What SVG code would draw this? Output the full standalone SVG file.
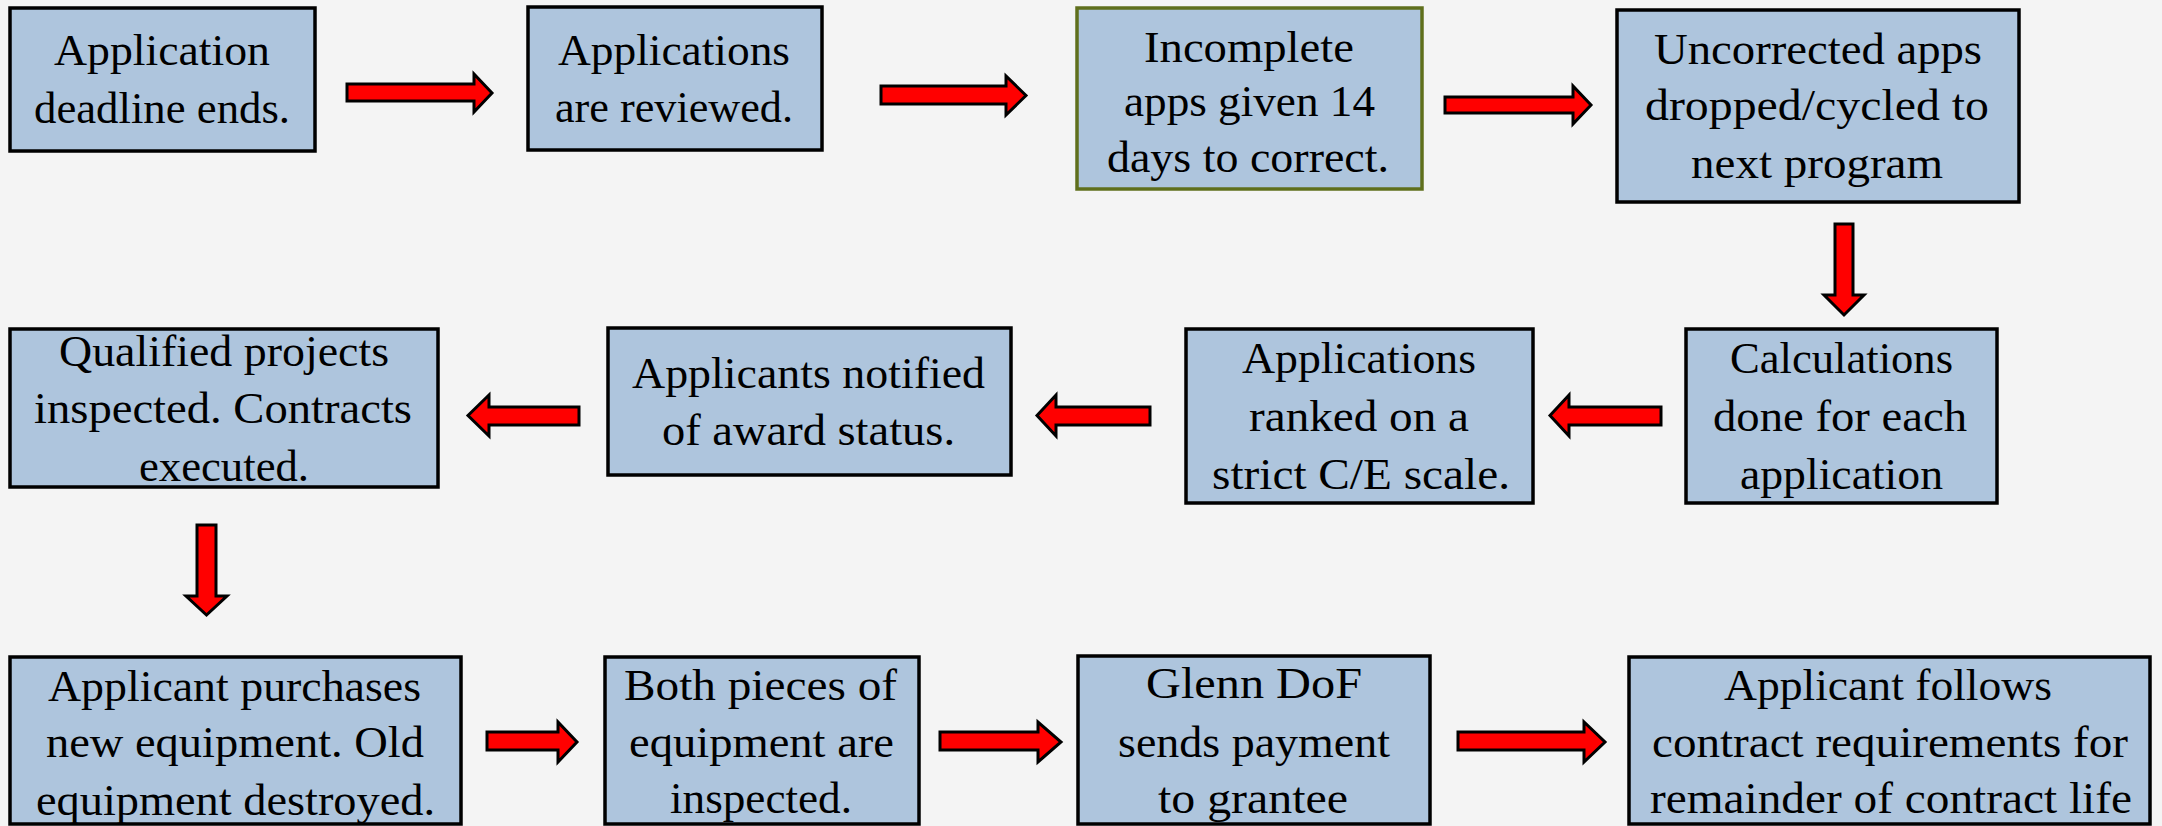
<svg xmlns="http://www.w3.org/2000/svg" width="2162" height="826" viewBox="0 0 2162 826">
<style>
.box{fill:#aec5dd;stroke:#000;stroke-width:3.5}
.olive{fill:#aec5dd;stroke:#5f6f1c;stroke-width:3.5}
.t{font-size:45px;fill:#000;text-anchor:middle}
.arr{fill:#ff0000;stroke:#000;stroke-width:3;stroke-linejoin:miter}
</style>
<rect width="2162" height="826" fill="#f4f4f4"/>
<g font-family="Liberation Serif, Times New Roman, DejaVu Serif, serif" lengthAdjust="spacingAndGlyphs">
<g id="n1"><rect class="box" x="10" y="8" width="305" height="143"/><text class="t" x="162" y="65" textLength="216" lengthAdjust="spacingAndGlyphs">Application</text><text class="t" x="162" y="123" textLength="256" lengthAdjust="spacingAndGlyphs">deadline ends.</text></g>
<g id="n2"><rect class="box" x="528" y="7" width="294" height="143"/><text class="t" x="674" y="65" textLength="232" lengthAdjust="spacingAndGlyphs">Applications</text><text class="t" x="674" y="122" textLength="238" lengthAdjust="spacingAndGlyphs">are reviewed.</text></g>
<g id="n3"><rect class="olive" x="1077" y="8" width="345" height="181"/><text class="t" x="1249" y="62" textLength="210" lengthAdjust="spacingAndGlyphs">Incomplete</text><text class="t" x="1249.5" y="116" textLength="251" lengthAdjust="spacingAndGlyphs">apps given 14</text><text class="t" x="1248" y="172" textLength="282" lengthAdjust="spacingAndGlyphs">days to correct.</text></g>
<g id="n4"><rect class="box" x="1617" y="10" width="402" height="192"/><text class="t" x="1818" y="64" textLength="328" lengthAdjust="spacingAndGlyphs">Uncorrected apps</text><text class="t" x="1817" y="120" textLength="344" lengthAdjust="spacingAndGlyphs">dropped/cycled to</text><text class="t" x="1817" y="178" textLength="252" lengthAdjust="spacingAndGlyphs">next program</text></g>
<g id="n5"><rect class="box" x="1686" y="329" width="311" height="174"/><text class="t" x="1841.5" y="373" textLength="223" lengthAdjust="spacingAndGlyphs">Calculations</text><text class="t" x="1840" y="431" textLength="254" lengthAdjust="spacingAndGlyphs">done for each</text><text class="t" x="1841.5" y="489" textLength="203" lengthAdjust="spacingAndGlyphs">application</text></g>
<g id="n6"><rect class="box" x="1186" y="329" width="347" height="174"/><text class="t" x="1359" y="373" textLength="234" lengthAdjust="spacingAndGlyphs">Applications</text><text class="t" x="1359" y="431" textLength="220" lengthAdjust="spacingAndGlyphs">ranked on a</text><text class="t" x="1361" y="489" textLength="298" lengthAdjust="spacingAndGlyphs">strict C/E scale.</text></g>
<g id="n7"><rect class="box" x="608" y="328" width="403" height="147"/><text class="t" x="808.5" y="388" textLength="353" lengthAdjust="spacingAndGlyphs">Applicants notified</text><text class="t" x="808.5" y="445" textLength="293" lengthAdjust="spacingAndGlyphs">of award status.</text></g>
<g id="n8"><rect class="box" x="10" y="329" width="428" height="158"/><text class="t" x="224" y="366" textLength="330" lengthAdjust="spacingAndGlyphs">Qualified projects</text><text class="t" x="223" y="423" textLength="378" lengthAdjust="spacingAndGlyphs">inspected. Contracts</text><text class="t" x="224" y="481" textLength="170" lengthAdjust="spacingAndGlyphs">executed.</text></g>
<g id="n9"><rect class="box" x="10" y="657" width="451" height="167"/><text class="t" x="234.5" y="701" textLength="373" lengthAdjust="spacingAndGlyphs">Applicant purchases</text><text class="t" x="235" y="757" textLength="378" lengthAdjust="spacingAndGlyphs">new equipment. Old</text><text class="t" x="235.5" y="815" textLength="399" lengthAdjust="spacingAndGlyphs">equipment destroyed.</text></g>
<g id="n10"><rect class="box" x="605" y="657" width="314" height="167"/><text class="t" x="760.5" y="700" textLength="273" lengthAdjust="spacingAndGlyphs">Both pieces of</text><text class="t" x="761.5" y="757" textLength="265" lengthAdjust="spacingAndGlyphs">equipment are</text><text class="t" x="761" y="813" textLength="182" lengthAdjust="spacingAndGlyphs">inspected.</text></g>
<g id="n11"><rect class="box" x="1078" y="656" width="352" height="168"/><text class="t" x="1254" y="698" textLength="216" lengthAdjust="spacingAndGlyphs">Glenn DoF</text><text class="t" x="1254" y="757" textLength="272" lengthAdjust="spacingAndGlyphs">sends payment</text><text class="t" x="1253" y="813" textLength="190" lengthAdjust="spacingAndGlyphs">to grantee</text></g>
<g id="n12"><rect class="box" x="1629" y="657" width="521" height="167"/><text class="t" x="1888" y="700" textLength="328" lengthAdjust="spacingAndGlyphs">Applicant follows</text><text class="t" x="1890" y="757" textLength="476" lengthAdjust="spacingAndGlyphs">contract requirements for</text><text class="t" x="1891" y="813" textLength="482" lengthAdjust="spacingAndGlyphs">remainder of contract life</text></g>
</g>
<g id="connectors">
<path class="arr" d="M347,84 H474 V74 L492,93 L474,112 V101 H347 Z"/>
<path class="arr" d="M881,86 H1006 V76 L1026,95.5 L1006,115 V104 H881 Z"/>
<path class="arr" d="M1445,97 H1573 V86 L1591,105 L1573,124 V113 H1445 Z"/>
<path class="arr" d="M1835,224 H1853 V295 H1864 L1844,315 L1824,295 H1835 Z"/>
<path class="arr" d="M1661,407 H1569 V395 L1550,415.5 L1569,436 V425 H1661 Z"/>
<path class="arr" d="M1150,407 H1056 V395 L1037,415.5 L1056,436 V425 H1150 Z"/>
<path class="arr" d="M579,407 H489 V395 L468,415.5 L489,436 V425 H579 Z"/>
<path class="arr" d="M197,525 H216 V596 H227 L206.5,615 L186,596 H197 Z"/>
<path class="arr" d="M487,732 H558 V722 L577,742 L558,762 V750 H487 Z"/>
<path class="arr" d="M940,732 H1038 V722 L1061,742 L1038,762 V750 H940 Z"/>
<path class="arr" d="M1458,732 H1584 V722 L1605,742 L1584,762 V750 H1458 Z"/>
</g>
</svg>
